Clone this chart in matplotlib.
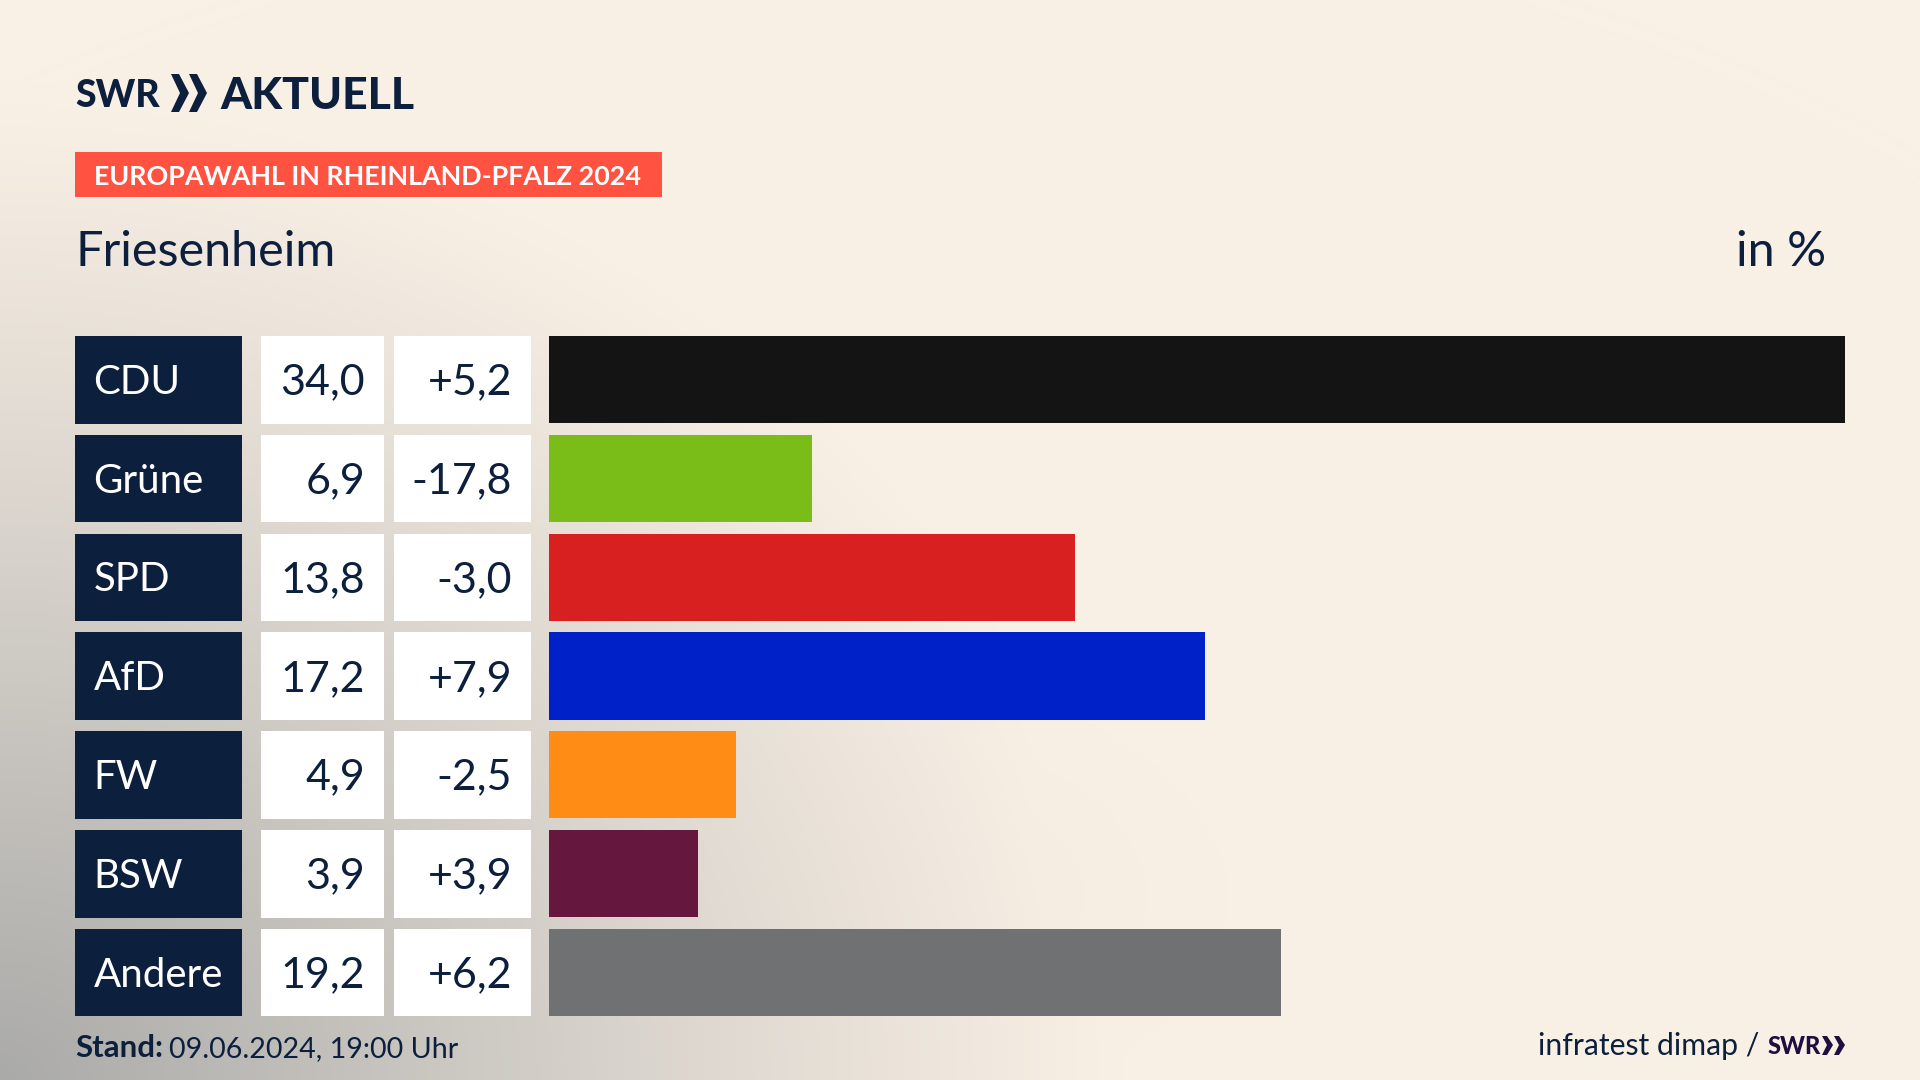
import numpy as np
import matplotlib
matplotlib.use("Agg")
import matplotlib.pyplot as plt
from matplotlib.patches import Rectangle, Polygon

parties = ["CDU", "Grüne", "SPD", "AfD", "FW", "BSW", "Andere"]
shares = [34.0, 6.9, 13.8, 17.2, 4.9, 3.9, 19.2]
changes = ["+5,2", "-17,8", "-3,0", "+7,9", "-2,5", "+3,9", "+6,2"]
colors = ["#141414", "#7ABD19", "#D7201F", "#0020C8", "#FF8C14", "#66173D", "#707173"]

NAVY = "#0C1F3D"
plt.rcParams["font.family"] = ["Lato", "DejaVu Sans"]

W, H = 1920, 1080
fig = plt.figure(figsize=(W / 100, H / 100), dpi=100)

# full-figure axes in pixel coordinates for background and furniture
bg = fig.add_axes([0, 0, 1, 1])
bg.set_xlim(0, W)
bg.set_ylim(H, 0)
bg.axis("off")

xx, yy = np.meshgrid(np.linspace(0, W, 480), np.linspace(0, H, 270))
cream = np.array([250, 241, 230]) / 255
grey = np.array([170, 170, 168]) / 255
t = np.clip(1 - np.sqrt((xx / 1150) ** 2 + ((H - yy) / 1000) ** 2), 0, 1) ** 1.1
t = np.maximum(t, 0.08 * np.exp(-(((xx - 900) / 260) ** 2 + ((yy - 900) / 170) ** 2)))
img = cream[None, None, :] * (1 - t[..., None]) + grey[None, None, :] * t[..., None]
bg.imshow(img, extent=(0, W, H, 0), aspect="auto", zorder=0)

# bars, with row slots matching the table cells
row_top, row_bottom = 336, 1016
pitch = 98.83
cell_h = 87.5
pad = (pitch - cell_h) / 2
ax = fig.add_axes([549 / W, 1 - (row_bottom + pad) / H, (1845 - 549) / W, (row_bottom - row_top + 2 * pad) / H])
ax.patch.set_alpha(0)
ax.barh(range(len(parties)), shares, height=cell_h / pitch, color=colors)
ax.set_xlim(0, 34.0)
ax.set_ylim(len(parties) - 0.5, -0.5)
ax.axis("off")

for i, party in enumerate(parties):
    top = row_top + i * pitch
    mid = top + cell_h / 2
    bg.add_patch(Rectangle((75, top), 167, cell_h, color=NAVY, lw=0, zorder=2))
    bg.add_patch(Rectangle((261, top), 123, cell_h, color="white", lw=0, zorder=2))
    bg.add_patch(Rectangle((394, top), 137, cell_h, color="white", lw=0, zorder=2))
    bg.text(93.5, mid - 1, party, color="white", fontsize=29, va="center_baseline", zorder=3)
    bg.text(365, mid - 1, f"{shares[i]:.1f}".replace(".", ","), color=NAVY, fontsize=31,
            ha="right", va="center_baseline", zorder=3)
    bg.text(512, mid - 1, changes[i], color=NAVY, fontsize=31, ha="right",
            va="center_baseline", zorder=3)

# logo
bg.text(75, 107, "SWR", color=NAVY, fontsize=27, fontweight="black", va="baseline", zorder=3)
for x0 in (171, 189):
    bg.add_patch(Polygon([(x0, 74), (x0 + 8, 74), (x0 + 18, 93), (x0 + 8, 112), (x0, 112), (x0 + 9, 93)],
                         color=NAVY, lw=0, zorder=3))
bg.text(220, 109, "AKTUELL", color=NAVY, fontsize=32, fontweight="black", va="baseline", zorder=3)

# header
bg.add_patch(Rectangle((75, 152), 587, 45, color="#FF5240", lw=0, zorder=2))
bg.text(94, 175, "EUROPAWAHL IN RHEINLAND-PFALZ 2024", color="white", fontsize=19.4,
        fontweight="bold", va="center_baseline", zorder=3)
bg.text(76, 248, "Friesenheim", color=NAVY, fontsize=35, va="center_baseline", zorder=3)
bg.text(1826, 248, "in %", color=NAVY, fontsize=35, ha="right", va="center_baseline", zorder=3)

# footer
bg.text(75, 1057, "Stand:", color=NAVY, fontsize=22.5, fontweight="bold", zorder=3)
bg.text(169, 1057, "09.06.2024, 19:00 Uhr", color=NAVY, fontsize=20.6, zorder=3)
bg.text(1759, 1055, "infratest dimap /", color=NAVY, fontsize=21.7, ha="right", zorder=3)
bg.text(1768, 1054, "SWR", color="#1F0F40", fontsize=17, fontweight="black", zorder=3)
for x0 in (1822, 1834):
    bg.add_patch(Polygon([(x0, 1036), (x0 + 5, 1036), (x0 + 11, 1045), (x0 + 5, 1055), (x0, 1055), (x0 + 5, 1045)],
                         color="#1F0F40", lw=0, zorder=3))

fig.savefig("out.png", dpi=100)
